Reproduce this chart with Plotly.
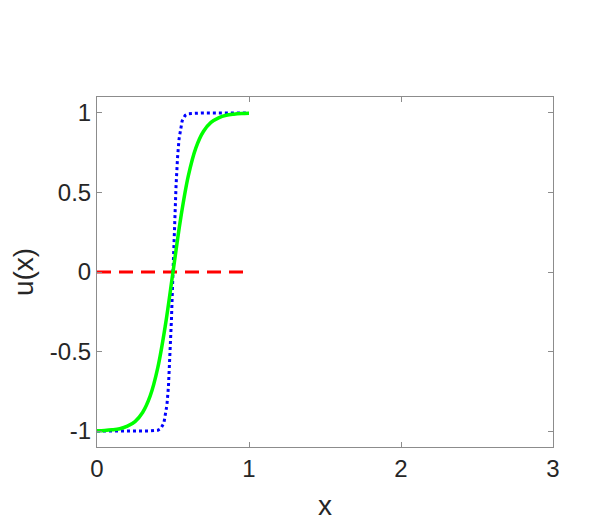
import plotly.graph_objects as go

# readings from the picture
x_red = [0.0, 1.0]
u_red = [0.0, 0.0]

x_green = [0.0, 0.05, 0.1, 0.15, 0.2, 0.25, 0.3, 0.35, 0.4, 0.45, 0.5,
           0.55, 0.6, 0.65, 0.7, 0.75, 0.8, 0.85, 0.9, 0.95, 1.0]
u_green = [-0.998, -0.996, -0.992, -0.985, -0.969, -0.940, -0.883, -0.779, -0.601, -0.334, 0.0,
           0.334, 0.601, 0.779, 0.883, 0.940, 0.969, 0.985, 0.992, 0.996, 0.998]

x_blue = [0.0, 0.1, 0.2, 0.3, 0.35, 0.4, 0.42, 0.44, 0.46, 0.47, 0.48, 0.49, 0.5,
          0.51, 0.52, 0.53, 0.54, 0.56, 0.58, 0.6, 0.65, 0.7, 0.8, 0.9, 1.0]
u_blue = [-1.0, -1.0, -1.0, -1.0, -0.999, -0.995, -0.984, -0.949, -0.837, -0.721, -0.541, -0.294, 0.0,
          0.294, 0.541, 0.721, 0.837, 0.949, 0.984, 0.995, 0.999, 1.0, 1.0, 1.0, 1.0]

fig = go.Figure()

fig.add_trace(go.Scatter(x=x_red, y=u_red, mode='lines',
                         line=dict(color='#ff0000', width=3, dash='14px,8px')))
fig.add_trace(go.Scatter(x=x_blue, y=u_blue, mode='lines',
                         line=dict(color='#0000ff', width=3, dash='3px,3px')))
fig.add_trace(go.Scatter(x=x_green, y=u_green, mode='lines',
                         line=dict(color='#00ff00', width=3.5, shape='spline')))

axis_style = dict(showline=True, linecolor='#8c8c8c', linewidth=1, mirror='allticks',
                  ticks='inside', ticklen=5, tickcolor='#8c8c8c', showgrid=False,
                  zeroline=False, tickfont=dict(size=24, color='#262626'))

fig.update_xaxes(range=[0, 3], tickvals=[0, 1, 2, 3],
                 title=dict(text='x', font=dict(size=28, color='#262626'), standoff=14),
                 **axis_style)
fig.update_yaxes(range=[-1.1, 1.1], tickvals=[-1, -0.5, 0, 0.5, 1],
                 ticktext=['-1', '-0.5', '0', '0.5', '1'],
                 title=dict(text='u(x)', font=dict(size=28, color='#262626'), standoff=10),
                 **axis_style)

fig.update_layout(width=598, height=531, showlegend=False,
                  plot_bgcolor='white', paper_bgcolor='white',
                  font=dict(family='Liberation Sans, Arial, sans-serif'),
                  margin=dict(l=89, r=53, t=89, b=92, autoexpand=False))

fig.write_html("out.html")
